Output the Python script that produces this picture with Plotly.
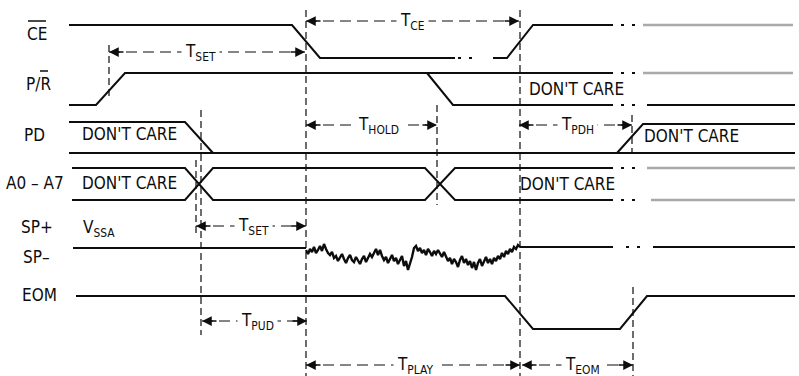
import numpy as np
import plotly.graph_objects as go

# ── look ──────────────────────────────────────────────────────────────
W, H   = 799, 376
FONT   = "Liberation Sans Narrow, DejaVu Sans Condensed, Arial Narrow, sans-serif"
INK    = "#0d0d0d"
GREY   = "#a9a9a9"
FS     = 17

# ── waveforms: x = time (px), y = level (px, top-down) ────────────────
CE_X  = [69, 292, 320, 455]
CE_Y  = [25, 25, 58, 58]
CE2_X = [493, 507, 533, 613]
CE2_Y = [58, 58, 25, 25]

PR_X  = [69, 96, 125, 613]
PR_Y  = [105, 105, 73, 73]
PR2_X = [427, 453, 613]
PR2_Y = [73, 105, 105]
PR3_X = [647, 795]
PR3_Y = [105, 105]

PD_X  = [69, 185, 213]
PD_Y  = [122, 122, 153]
PD2_X = [69, 795]
PD2_Y = [153, 153]
PD3_X = [617, 643, 795]
PD3_Y = [153, 124, 124]

AD_X  = [72, 185, 213, 425, 455, 613]
AD_Y  = [168, 168, 200, 200, 168, 168]
AD2_X = [72, 185, 213, 425, 455, 613]
AD2_Y = [200, 200, 168, 168, 200, 200]

SP_X  = [73, 306]
SP_Y  = [248, 248]
SP2_X = [520, 613]
SP2_Y = [247, 247]
SP3_X = [653, 795]
SP3_Y = [247, 247]

# audio on SP- during playback
NOISE_X0, NOISE_X1 = 306, 520
NOISE_Y = [250, 254, 249, 252, 247, 253, 250, 246, 251, 244, 249, 253,
           255, 252, 258, 256, 261, 257, 254, 259, 263, 258, 255, 260, 262, 257,
           261, 264, 259, 256, 262, 258, 254, 257, 252, 249, 255,
           250, 256, 260, 257, 263, 259, 255, 261, 258, 264, 260, 256, 266, 261,
           270, 264, 257, 248,
           246, 251, 248, 253, 250, 255, 249, 252, 256, 251, 254, 250, 253, 257, 252,
           256, 261, 258, 264, 259, 262, 267, 260, 256, 263, 259, 265, 261, 268,
           262, 270, 263, 259, 266, 261, 257, 263, 259, 264, 258, 261, 256, 259,
           253, 257, 251, 254, 249, 252, 247, 249, 245, 247]

EOM_X = [76, 505, 533, 620, 647, 795]
EOM_Y = [296, 296, 329, 329, 296, 296]

# faded continuation lines (x0, x1, y)
FADED = [(643, 793, 25), (643, 793, 73), (647, 795, 168), (651, 795, 200)]
# "· ·" breaks (x0, x1, y)
BREAKS = [(458, 472, 58), (621, 635, 25), (621, 635, 73), (621, 635, 105),
          (621, 635, 168), (621, 635, 200), (626, 640, 247)]

# dashed guides (x, y0, y1)
GUIDES = [(109, 45, 100), (306, 10, 376), (201, 110, 335), (196, 160, 236),
          (437, 105, 205), (520, 10, 376), (632, 115, 152), (633, 287, 376)]

# dimension arrows (subscript, x0, x1, y, label x)
DIMS = [("CE", 306, 519, 21, 412), ("SET", 109, 305, 52, 200),
        ("HOLD", 306, 437, 125, 378), ("PDH", 519, 632, 125, 577),
        ("SET", 196, 306, 226, 253), ("PUD", 202, 307, 321, 257),
        ("PLAY", 306, 520, 365, 415), ("EOM", 522, 633, 365, 582)]

# signal names (text, x, y)
NAMES = [("CE", 37, 34), ("P/R", 38, 84), ("PD", 34, 135), ("A0 – A7", 35, 183),
         ("SP+", 37, 227), ("SP–", 36, 257), ("EOM", 39, 295)]
# overbars (x0, x1, y)
BARS = [(28, 46, 21), (40, 48, 71)]

DONT_CARE = [(129, 134), (129, 183), (576, 89), (691, 136), (567, 184)]

fig = go.Figure()


def wave(xs, ys, color=INK, width=2.0, dash="solid"):
    fig.add_trace(go.Scatter(x=xs, y=ys, mode="lines",
                             line=dict(color=color, width=width, dash=dash),
                             hoverinfo="skip", showlegend=False))


for xs, ys in [(CE_X, CE_Y), (CE2_X, CE2_Y), (PR_X, PR_Y), (PR2_X, PR2_Y),
               (PR3_X, PR3_Y), (PD_X, PD_Y), (PD2_X, PD2_Y), (PD3_X, PD3_Y),
               (AD_X, AD_Y), (AD2_X, AD2_Y), (SP_X, SP_Y), (SP2_X, SP2_Y),
               (SP3_X, SP3_Y), (EOM_X, EOM_Y)]:
    wave(xs, ys)

wave(list(np.linspace(NOISE_X0, NOISE_X1, len(NOISE_Y))), NOISE_Y, width=2.4)

for x0, x1, y in FADED:
    wave([x0, x1], [y, y], color=GREY, width=2.5)
for x0, x1, y in BREAKS:
    wave([x0, x1], [y, y], width=2, dash="3px,8px")
for x, y0, y1 in GUIDES:
    wave([x, x], [y0, y1], width=1.2, dash="7px,4px")

for sub, x0, x1, y, tx in DIMS:
    wave([x0, x1], [y, y], width=1.2, dash="11px,6px")
    for tip, tail in [(x0, x0 + 16), (x1, x1 - 16)]:
        fig.add_annotation(x=tip, y=y, ax=tail, ay=y, axref="x", ayref="y",
                           xref="x", yref="y", text="", showarrow=True,
                           arrowhead=2, arrowsize=1.3, arrowwidth=1.5,
                           arrowcolor=INK, standoff=0)
    fig.add_annotation(x=tx, y=y, text=f"T<sub>{sub}</sub>", showarrow=False,
                       bgcolor="white", borderpad=3,
                       font=dict(family=FONT, size=FS, color=INK))

for txt, x, y in NAMES:
    fig.add_annotation(x=x, y=y, text=txt, showarrow=False,
                       font=dict(family=FONT, size=FS, color=INK))
for x0, x1, y in BARS:
    fig.add_shape(type="line", x0=x0, x1=x1, y0=y, y1=y,
                  line=dict(color=INK, width=1.5))

for x, y in DONT_CARE:
    fig.add_annotation(x=x, y=y, text="DON'T CARE", showarrow=False,
                       font=dict(family=FONT, size=FS, color=INK))

fig.add_annotation(x=81, y=228, text="V<sub>SSA</sub>", showarrow=False,
                   xanchor="left", font=dict(family=FONT, size=FS, color=INK))

fig.update_layout(
    width=W, height=H, autosize=False,
    margin=dict(l=0, r=0, t=0, b=0),
    paper_bgcolor="white", plot_bgcolor="white",
    xaxis=dict(range=[0, W], visible=False, fixedrange=True),
    yaxis=dict(range=[H, 0], visible=False, fixedrange=True),
    showlegend=False,
)

fig.write_html("out.html", config={"displayModeBar": False},
               post_script="document.body.style.margin='0px';")
